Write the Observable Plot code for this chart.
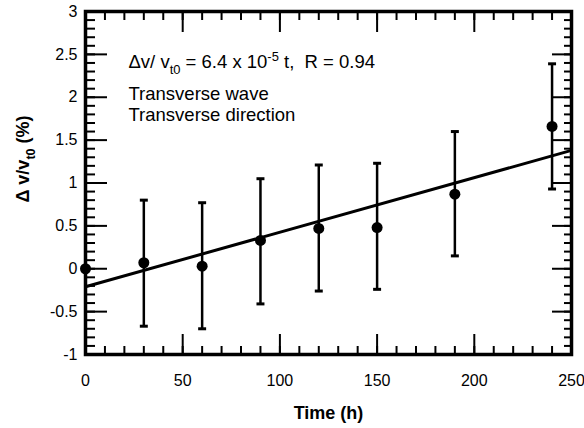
<!DOCTYPE html>
<html><head><meta charset="utf-8">
<script src="https://cdn.jsdelivr.net/npm/d3@7"></script>
<script src="https://cdn.jsdelivr.net/npm/@observablehq/plot@0.6"></script>
<style>body{margin:0;background:#fff}</style>
</head><body><div id="chart"></div>
<script>
// Data
const times   = [0, 30, 60, 90, 120, 150, 190, 240];
const dv      = [0, 0.07, 0.03, 0.33, 0.47, 0.48, 0.87, 1.66];
const errLow  = [null, -0.67, -0.70, -0.41, -0.26, -0.24, 0.15, 0.93];
const errHigh = [null, 0.80, 0.77, 1.05, 1.21, 1.23, 1.60, 2.39];
const fitT    = [0, 250];
const fitDv   = [-0.21, 1.38];
const xMajorTicks = [0, 50, 100, 150, 200, 250];
const xMinorTicks = [0,10,20,30,40,50,60,70,80,90,100,110,120,130,140,150,160,170,180,190,200,210,220,230,240,250];
const yMajorTicks = [-1, -0.5, 0, 0.5, 1, 1.5, 2, 2.5, 3];
const yMinorTicks = [-1,-0.9,-0.8,-0.7,-0.6,-0.5,-0.4,-0.3,-0.2,-0.1,0,0.1,0.2,0.3,0.4,0.5,0.6,0.7,0.8,0.9,1,1.1,1.2,1.3,1.4,1.5,1.6,1.7,1.8,1.9,2,2.1,2.2,2.3,2.4,2.5,2.6,2.7,2.8,2.9,3];
const annotationLines = ["Δv/ vt0 = 6.4 x 10-5 t,  R = 0.94", "Transverse wave", "Transverse direction"];
const xTitle = "Time (h)";
const yTitle = "Δ v/vt0 (%)";

const points = times.map((t, i) => ({t, v: dv[i], lo: errLow[i], hi: errHigh[i]}));
const bars = points.filter(d => d.lo != null);
const fit = fitT.map((t, i) => ({t, v: fitDv[i]}));

const capSymbol = {draw(ctx, size) { const w = Math.sqrt(size) / 2; ctx.moveTo(-w, 0); ctx.lineTo(w, 0); }};
const noText = () => "";

const plot = Plot.plot({
  width: 584, height: 428,
  marginLeft: 85, marginRight: 13, marginTop: 11, marginBottom: 74,
  style: {fontFamily: "'Liberation Sans', Arial, sans-serif", fontSize: "16px", color: "#000", background: "#fff"},
  x: {domain: [0, 250], label: null},
  y: {domain: [-1, 3], label: null},
  marks: [
    // minor/major ticks inside the frame (all four sides)
    Plot.axisX(xMinorTicks, {anchor: "bottom", tickSize: -8, tickFormat: noText, strokeWidth: 2}),
    Plot.axisX(xMajorTicks, {anchor: "bottom", tickSize: -20, tickFormat: noText, strokeWidth: 2}),
    Plot.axisX(xMinorTicks, {anchor: "top", tickSize: -8, tickFormat: noText, strokeWidth: 2}),
    Plot.axisX(xMajorTicks, {anchor: "top", tickSize: -20, tickFormat: noText, strokeWidth: 2}),
    Plot.axisY(yMinorTicks, {anchor: "left", tickSize: -10, tickFormat: noText, strokeWidth: 2}),
    Plot.axisY(yMajorTicks, {anchor: "left", tickSize: -22, tickFormat: noText, strokeWidth: 2}),
    Plot.axisY(yMinorTicks, {anchor: "right", tickSize: -8, tickFormat: noText, strokeWidth: 2}),
    Plot.axisY(yMajorTicks, {anchor: "right", tickSize: -20, tickFormat: noText, strokeWidth: 2}),
    // tick labels
    Plot.axisX(xMajorTicks, {anchor: "bottom", tickSize: 0, tickPadding: 20, tickFormat: d => String(d), fontSize: 16}),
    Plot.axisY(yMajorTicks, {anchor: "left", tickSize: 0, tickPadding: 8, tickFormat: d => String(d), fontSize: 16}),
    Plot.frame({stroke: "#000", strokeWidth: 3.5}),
    // fit line
    Plot.line(fit, {x: "t", y: "v", stroke: "#000", strokeWidth: 3}),
    // error bars
    Plot.ruleX(bars, {x: "t", y1: "lo", y2: "hi", stroke: "#000", strokeWidth: 2.5}),
    Plot.dot(bars, {x: "t", y: "lo", symbol: capSymbol, r: 4.5, stroke: "#000", strokeWidth: 3}),
    Plot.dot(bars, {x: "t", y: "hi", symbol: capSymbol, r: 4.5, stroke: "#000", strokeWidth: 3}),
    // points
    Plot.dot(points, {x: "t", y: "v", r: 5.5, fill: "#000", stroke: "none"}),
    // annotation
    Plot.text([annotationLines[0]], {frameAnchor: "top-left", lineAnchor: "middle", dx: 43, dy: 51, textAnchor: "start", fontSize: 18.5, className: "ann0"}),
    Plot.text([annotationLines[1]], {frameAnchor: "top-left", lineAnchor: "middle", dx: 43, dy: 83, textAnchor: "start", fontSize: 18.5}),
    Plot.text([annotationLines[2]], {frameAnchor: "top-left", lineAnchor: "middle", dx: 43, dy: 104, textAnchor: "start", fontSize: 18.5}),
    // axis titles
    Plot.text([xTitle], {frameAnchor: "bottom", lineAnchor: "middle", textAnchor: "middle", dy: 59, fontWeight: "bold", fontSize: 18}),
    Plot.text([yTitle], {frameAnchor: "left", lineAnchor: "middle", textAnchor: "middle", dx: -62, dy: -24, rotate: -90, fontWeight: "bold", fontSize: 18, className: "ytitle"})
  ]
});
document.getElementById("chart").appendChild(plot);

// rich text: subscripts / superscripts
function rich(sel, parts) {
  const t = plot.querySelector(sel + " text");
  if (!t) return;
  t.textContent = "";
  const ns = "http://www.w3.org/2000/svg";
  for (const [s, kind] of parts) {
    const ts = document.createElementNS(ns, "tspan");
    ts.textContent = s;
    if (kind === "sub") { ts.setAttribute("font-size", "0.7em"); ts.setAttribute("dy", "0.45em"); }
    if (kind === "sup") { ts.setAttribute("font-size", "0.7em"); ts.setAttribute("dy", "-0.55em"); }
    if (kind === "back-sub") { ts.setAttribute("dy", "-0.315em"); }
    if (kind === "back-sup") { ts.setAttribute("dy", "0.385em"); }
    t.appendChild(ts);
  }
}
rich(".ann0", [["Δv/ v", null], ["t0", "sub"], [" = 6.4 x 10", "back-sub"], ["-5", "sup"], [" t,  R = 0.94", "back-sup"]]);
rich(".ytitle", [["Δ v/v", null], ["t0", "sub"], [" (%)", "back-sub"]]);
</script>
</body></html>
